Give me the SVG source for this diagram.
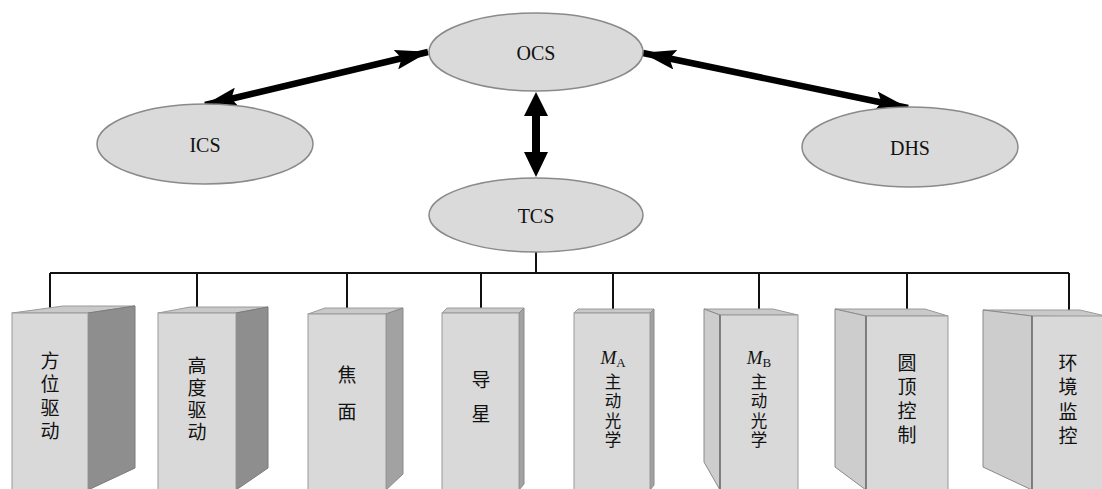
<svg xmlns="http://www.w3.org/2000/svg" width="1102" height="489" viewBox="0 0 1102 489">
<style>
.ell{fill:#dadada;stroke:#8a8a8a;stroke-width:1.5}
.lbl{font-family:"Liberation Serif","Times New Roman",serif;font-size:20px;fill:#111;text-anchor:middle;dominant-baseline:central}
.front{fill:#d9d9d9;stroke:#9a9a9a;stroke-width:1}
.top{fill:#c9c9c9;stroke:#9a9a9a;stroke-width:1}
.sideD{fill:#8e8e8e;stroke:#7a7a7a;stroke-width:1}
.sideM{fill:#a2a2a2;stroke:#8a8a8a;stroke-width:1}
.sideL{fill:#cdcdcd;stroke:#8a8a8a;stroke-width:1}
.edge{stroke:#6e6e6e;stroke-width:1.5;fill:none}
.vt{font-family:"Noto Sans CJK SC","Noto Sans CJK JP",sans-serif;font-size:19px;fill:#111;text-anchor:middle;writing-mode:vertical-rl;text-orientation:upright}
.vts{font-family:"Noto Sans CJK SC","Noto Sans CJK JP",sans-serif;font-size:16.5px;fill:#111;text-anchor:middle;writing-mode:vertical-rl;text-orientation:upright;letter-spacing:3px}
.m{font-family:"Liberation Serif","Times New Roman",serif;font-size:19px;fill:#111;text-anchor:middle}
.tree{stroke:#111;stroke-width:2;fill:none}
.arr{stroke:#000;stroke-width:6.5;fill:none}
</style>
<defs>
<marker id="ah" viewBox="0 0 34 20" refX="33" refY="10" markerWidth="34" markerHeight="20" markerUnits="userSpaceOnUse" orient="auto-start-reverse">
<path d="M0,0 L34,10 L0,20 L6,10 z" fill="#000"/>
</marker>
</defs>

<g id="connectors">
<line class="arr" x1="205" y1="105" x2="428" y2="52" marker-start="url(#ah)" marker-end="url(#ah)"/>
<line class="arr" x1="643" y1="53" x2="908" y2="108" marker-start="url(#ah)" marker-end="url(#ah)"/>
<polygon points="536,92 548,116 540,116 540,152 548,152 536,177 524,152 532,152 532,116 524,116" fill="#000"/>
<path class="tree" d="M536,252 V273 M50,273 H1069 M50,273 V313 M197,273 V313 M347,273 V314 M481,273 V313 M613,273 V313 M759,273 V315 M907,273 V316 M1069,273 V316"/>
</g>

<g id="node-ocs">
<ellipse class="ell" cx="536" cy="52" rx="107" ry="39"/>
<text class="lbl" x="536" y="53">OCS</text>
</g>
<g id="node-ics">
<ellipse class="ell" cx="205" cy="144" rx="108" ry="40"/>
<text class="lbl" x="205" y="145">ICS</text>
</g>
<g id="node-dhs">
<ellipse class="ell" cx="910" cy="147" rx="108" ry="40"/>
<text class="lbl" x="910" y="148">DHS</text>
</g>
<g id="node-tcs">
<ellipse class="ell" cx="536" cy="215" rx="107" ry="37"/>
<text class="lbl" x="536" y="216">TCS</text>
</g>

<g id="box-1">
<polygon class="top" points="12,313 88,313 135,306 63,306"/>
<polygon class="sideD" points="88,313 135,306 135,468 88,490"/>
<rect class="front" x="12" y="313" width="76" height="180"/>
<text class="vt" x="50" y="398" style="letter-spacing:4.5px">方位驱动</text>
</g>
<g id="box-2">
<polygon class="top" points="158,313 236,313 268,307 190,307"/>
<polygon class="sideD" points="236,313 268,307 268,468 236,490"/>
<rect class="front" x="158" y="313" width="78" height="180"/>
<text class="vt" x="197" y="400" style="letter-spacing:3px">高度驱动</text>
</g>
<g id="box-3">
<polygon class="top" points="308,314 386,314 403,308 325,308"/>
<polygon class="sideM" points="386,314 403,308 403,474 386,490"/>
<rect class="front" x="308" y="314" width="78" height="180"/>
<text class="vt" x="347" y="402" style="letter-spacing:18px">焦面</text>
</g>
<g id="box-4">
<polygon class="top" points="442,313 519,313 524,308 447,308"/>
<polygon class="sideM" points="519,313 524,308 524,484 519,490"/>
<rect class="front" x="442" y="313" width="77" height="180"/>
<text class="vt" x="481" y="404" style="letter-spacing:15px">导星</text>
</g>
<g id="box-5">
<polygon class="top" points="574,313 650,313 654,309 578,309"/>
<polygon class="sideM" points="650,313 654,309 654,485 650,490"/>
<rect class="front" x="574" y="313" width="76" height="180"/>
<text class="m" x="613" y="364"><tspan font-style="italic">M</tspan><tspan font-size="13" dy="3">A</tspan></text>
<text class="vts" x="613" y="412">主动光学</text>
</g>
<g id="box-6">
<polygon class="top" points="704,309 773,309 798,315 720,315"/>
<polygon class="sideL" points="704,309 720,315 720,490 704,462"/>
<rect class="front" x="720" y="315" width="78" height="180"/>
<line class="edge" x1="720" y1="315" x2="720" y2="489"/>
<text class="m" x="759" y="364"><tspan font-style="italic">M</tspan><tspan font-size="13" dy="3">B</tspan></text>
<text class="vts" x="759" y="412">主动光学</text>
</g>
<g id="box-7">
<polygon class="top" points="835,309 925,309 948,316 866,316"/>
<polygon class="sideL" points="835,309 866,316 866,490 835,467"/>
<rect class="front" x="866" y="316" width="82" height="180"/>
<line class="edge" x1="866" y1="316" x2="866" y2="489"/>
<text class="vt" x="907" y="401" style="letter-spacing:5px">圆顶控制</text>
</g>
<g id="box-8">
<polygon class="top" points="983,310 1080,310 1110,317 1032,316"/>
<polygon class="sideL" points="983,310 1032,316 1032,490 983,467"/>
<rect class="front" x="1032" y="316" width="80" height="180"/>
<line class="edge" x1="1032" y1="316" x2="1032" y2="489"/>
<text class="vt" x="1068" y="402" style="letter-spacing:5.5px">环境监控</text>
</g>
</svg>
